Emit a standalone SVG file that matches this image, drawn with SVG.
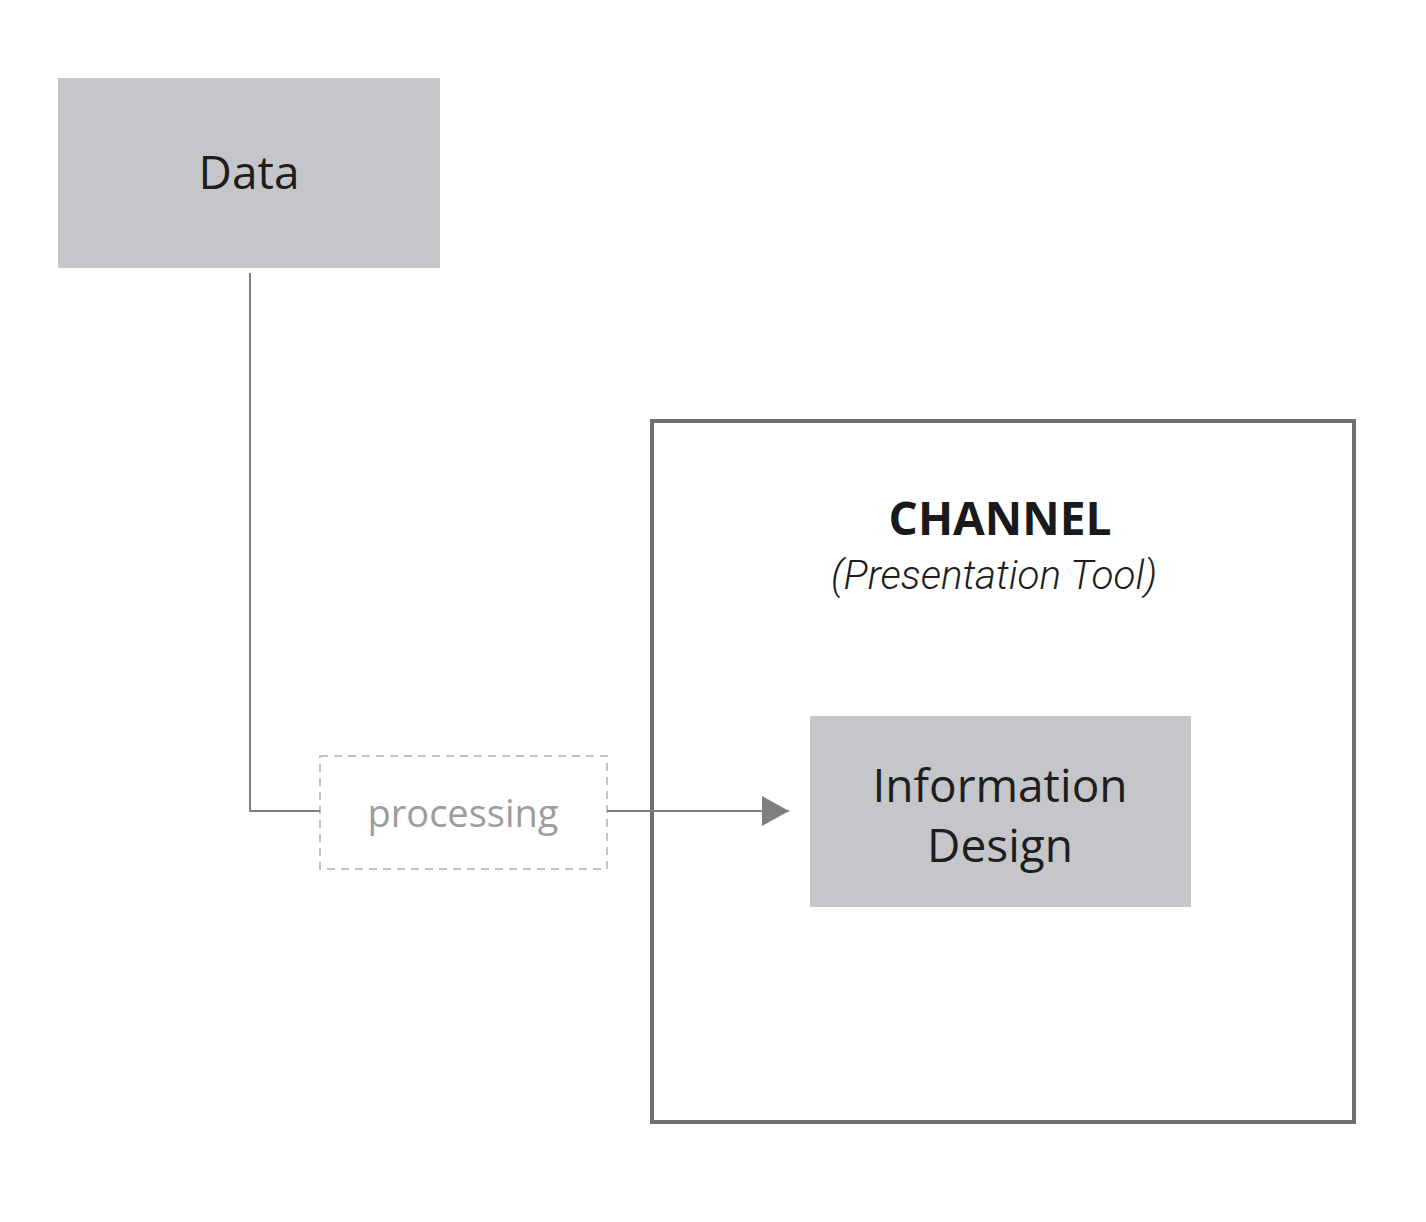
<svg xmlns="http://www.w3.org/2000/svg" width="1426" height="1222" viewBox="0 0 1426 1222">
<style>
.box{fill:#c5c6ca}
.lbl{font-family:"Open Sans","Noto Sans",sans-serif;font-size:46px;fill:#1e1e1e;text-anchor:middle}
.conn{fill:none;stroke:#7f7f7f;stroke-width:2}
</style>
<defs>
<marker id="arr" markerUnits="userSpaceOnUse" markerWidth="28" markerHeight="30" refX="27" refY="15" orient="auto">
<polygon points="0,0 27,15 0,30" fill="#7f7f7f"/>
</marker>
</defs>
<rect width="1426" height="1222" fill="#fff"/>
<g id="channel">
<rect x="652" y="421" width="702" height="701" fill="none" stroke="#707070" stroke-width="4"/>
<text x="1000" y="535" class="lbl" style="font-weight:700;fill:#1a1a1a">CHANNEL</text>
<text x="994" y="589" style="font-family:Roboto,'Liberation Sans',sans-serif;font-weight:300;font-style:italic;font-size:40px;fill:#1e1e1e;text-anchor:middle" textLength="326" lengthAdjust="spacingAndGlyphs">(Presentation Tool)</text>
</g>
<g id="data">
<rect x="58" y="78" width="382" height="190" class="box"/>
<text x="249" y="189" class="lbl">Data</text>
</g>
<g id="processing">
<rect x="320" y="756" width="287" height="113" fill="none" stroke="#c4c4c4" stroke-width="2" stroke-dasharray="8,6"/>
<text x="463" y="827" style="font-family:'Open Sans','Noto Sans',sans-serif;font-size:38px;fill:#9d9d9d;text-anchor:middle">processing</text>
</g>
<g id="information-design">
<rect x="810" y="716" width="381" height="191" class="box"/>
<text x="1000" y="802" class="lbl">Information</text>
<text x="1000" y="862" class="lbl">Design</text>
</g>
<g id="connectors">
<polyline class="conn" points="250,273 250,811 320,811"/>
<line class="conn" x1="607" y1="811" x2="789" y2="811" marker-end="url(#arr)"/>
</g>
</svg>
